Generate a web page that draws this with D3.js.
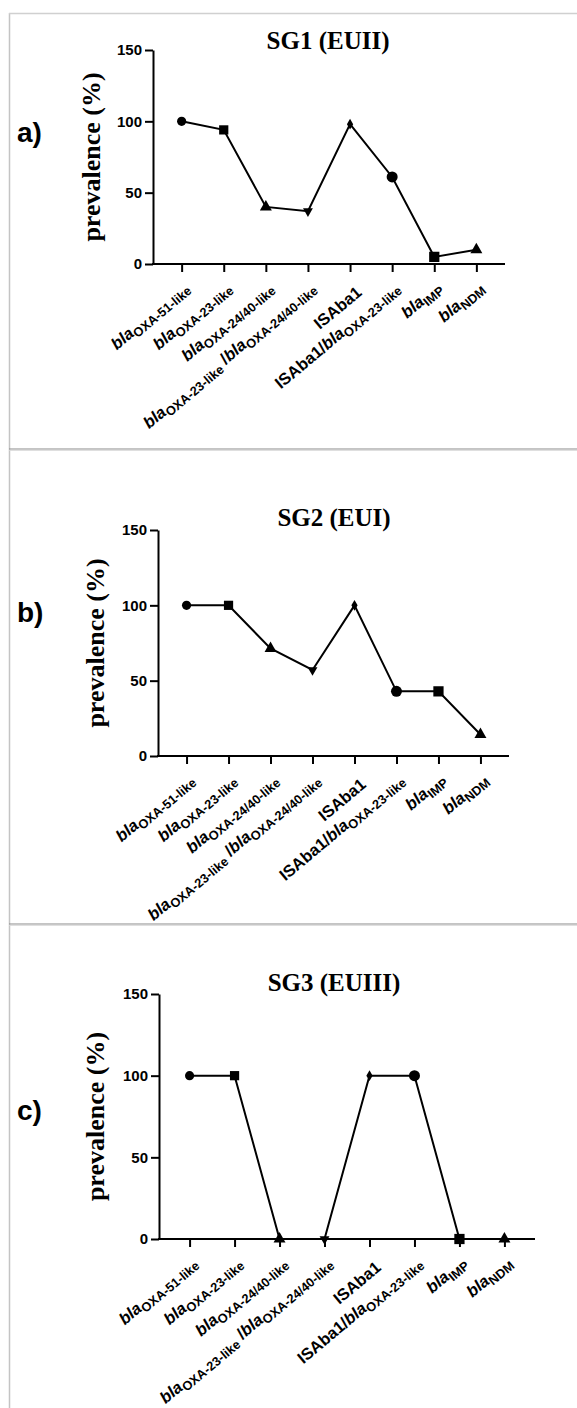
<!DOCTYPE html>
<html>
<head>
<meta charset="utf-8">
<script src="https://cdn.jsdelivr.net/npm/d3@7/dist/d3.min.js"></script>
<style>
  html, body { margin: 0; padding: 0; background: #fff; }
  svg { display: block; }
</style>
</head>
<body>
<svg id="chart" width="577" height="1408"></svg>
<script>
// ---------------- data ----------------
const categories = [
  "bla_{OXA-51-like}",
  "bla_{OXA-23-like}",
  "bla_{OXA-24/40-like}",
  "bla_{OXA-23-like} /bla_{OXA-24/40-like}",
  "ISAba1",
  "ISAba1/bla_{OXA-23-like}",
  "bla_{IMP}",
  "bla_{NDM}"
];
const sg1Values = [100, 94, 40, 37, 98, 61, 5, 10];
const sg2Values = [100, 100, 71.4, 57.1, 100, 42.9, 42.9, 14.3];
const sg3Values = [100, 100, 0, 0, 100, 100, 0, 0];
const yTicks = [0, 50, 100, 150];
const yDomain = [0, 150];
const titles = ["SG1 (EUII)", "SG2 (EUI)", "SG3 (EUIII)"];
const panelLetters = ["a)", "b)", "c)"];
const yAxisTitle = "prevalence (%)";

// ---------------- style / layout ----------------
const SANS = "'Liberation Sans', Arial, Helvetica, sans-serif";
const SERIF = "'Liberation Serif', 'Times New Roman', serif";
const markerShapes = ["circle", "square", "triangle", "triangleDown", "diamond", "circle", "square", "triangle"];
const markerSizes  = [66, 85, 62, 42, 34, 95, 105, 62];

const panels = [
  { values: sg1Values, axisX: 153, axisEnd: 505, y0: 264, yTop: 50,  titleX: 328, titleY: 49,  letterY: 142, labelX: 100 },
  { values: sg2Values, axisX: 158, axisEnd: 509, y0: 756, yTop: 530, titleX: 334, titleY: 526, letterY: 622, labelX: 104 },
  { values: sg3Values, axisX: 159, axisEnd: 535, y0: 1239, yTop: 994, titleX: 334, titleY: 991, letterY: 1120, labelX: 104 }
];

const svg = d3.select("#chart");

// frame lines
svg.append("line").attr("x1", 9.5).attr("x2", 9.5).attr("y1", 13).attr("y2", 1408)
  .attr("stroke", "#c4c4c4").attr("stroke-width", 1.5);
svg.append("line").attr("x1", 9).attr("x2", 577).attr("y1", 13.5).attr("y2", 13.5)
  .attr("stroke", "#d0d0d0").attr("stroke-width", 1.5);
[449, 924].forEach(y => {
  svg.append("line").attr("x1", 9).attr("x2", 577).attr("y1", y).attr("y2", y)
    .attr("stroke", "#8a8a8a").attr("stroke-width", 1.2);
  svg.append("line").attr("x1", 9).attr("x2", 577).attr("y1", y + 1.3).attr("y2", y + 1.3)
    .attr("stroke", "#d8d8d8").attr("stroke-width", 1);
});

function parseLabel(s) {
  const parts = [];
  const re = /_\{([^}]*)\}/g;
  let last = 0, m;
  while ((m = re.exec(s)) !== null) {
    if (m.index > last) parts.push({ t: s.slice(last, m.index), sub: false });
    parts.push({ t: m[1], sub: true });
    last = re.lastIndex;
  }
  if (last < s.length) parts.push({ t: s.slice(last), sub: false });
  return parts;
}

const symbolFor = {
  circle: d3.symbolCircle,
  square: d3.symbolSquare,
  triangle: d3.symbolTriangle,
  triangleDown: d3.symbolTriangle,
  diamond: d3.symbolDiamond
};

const ANGLE = 40;          // degrees, text reads up-right
const MAIN_FS = 16.5;
const SUB_FS = 12.8;
const SUB_DY = 4;
const rad = ANGLE * Math.PI / 180;

panels.forEach((p, pi) => {
  const g = svg.append("g");
  const x = d3.scalePoint().domain(d3.range(categories.length))
    .range([p.axisX, p.axisEnd]).padding(0.68);
  const y = d3.scaleLinear().domain(yDomain).range([p.y0, p.yTop]);

  // y axis
  const yAxis = d3.axisLeft(y).tickValues(yTicks).tickSize(8).tickSizeOuter(0).tickPadding(3)
    .tickFormat(d3.format("d"));
  const yg = g.append("g").attr("transform", `translate(${p.axisX},0)`).call(yAxis);
  yg.select(".domain").attr("stroke", "#000").attr("stroke-width", 2);
  yg.selectAll(".tick line").attr("stroke", "#000").attr("stroke-width", 2);
  yg.selectAll(".tick text").attr("fill", "#000").attr("font-family", SANS)
    .attr("font-weight", "bold").attr("font-size", 15);

  // x axis
  const xAxis = d3.axisBottom(x).tickSize(8).tickSizeOuter(0).tickFormat("");
  const xg = g.append("g").attr("transform", `translate(0,${p.y0})`).call(xAxis);
  xg.select(".domain").attr("stroke", "#000").attr("stroke-width", 2)
    .attr("d", `M${p.axisX - 1},0H${p.axisEnd}`);
  xg.selectAll(".tick line").attr("stroke", "#000").attr("stroke-width", 2);

  // x labels (rotated, rich text), top-right corner aligned just below each tick
  categories.forEach((c, i) => {
    const parts = parseLabel(c);
    const lastSub = parts[parts.length - 1].sub;
    const h = lastSub ? SUB_FS * 0.72 - SUB_DY : MAIN_FS * 0.72;
    const tx = x(i) + 5, ty = p.y0 + 21;
    const ax = tx + h * Math.sin(rad), ay = ty + h * Math.cos(rad);
    const t = g.append("text")
      .attr("transform", `translate(${ax},${ay}) rotate(${-ANGLE})`)
      .attr("text-anchor", "end")
      .attr("font-family", SANS).attr("font-weight", "bold").attr("fill", "#000");
    let shifted = false;
    parts.forEach(part => {
      const ts = t.append("tspan").text(part.t);
      if (part.sub) {
        ts.attr("font-size", SUB_FS).attr("dy", shifted ? 0 : SUB_DY);
        shifted = true;
      } else {
        ts.attr("font-size", MAIN_FS).attr("dy", shifted ? -SUB_DY : 0);
        if (part.t.trim().startsWith("bla") || part.t.endsWith("bla")) {
          // italicise gene prefix "bla"
          const txt = part.t;
          ts.text(null);
          const idx = txt.lastIndexOf("bla");
          if (idx > 0) ts.append("tspan").text(txt.slice(0, idx));
          ts.append("tspan").attr("font-style", "italic").text("bla");
        }
        shifted = false;
      }
    });
  });

  // line
  const line = d3.line().x((d, i) => x(i)).y(d => y(d));
  g.append("path").datum(p.values).attr("d", line)
    .attr("fill", "none").attr("stroke", "#000").attr("stroke-width", 2);

  // markers
  g.selectAll(".mk").data(p.values).enter().append("path")
    .attr("class", "mk")
    .attr("d", (d, i) => d3.symbol().type(symbolFor[markerShapes[i]]).size(markerSizes[i])())
    .attr("transform", (d, i) => `translate(${x(i)},${y(d)})` + (markerShapes[i] === "triangleDown" ? " rotate(180)" : ""))
    .attr("fill", "#000");

  // title
  g.append("text").attr("x", p.titleX).attr("y", p.titleY).attr("text-anchor", "middle")
    .attr("font-family", SERIF).attr("font-weight", "bold").attr("font-size", 25)
    .text(titles[pi]);

  // y axis title
  g.append("text")
    .attr("transform", `translate(${p.labelX},${(p.y0 + p.yTop) / 2}) rotate(-90)`)
    .attr("text-anchor", "middle")
    .attr("font-family", SERIF).attr("font-weight", "bold").attr("font-size", 26)
    .text(yAxisTitle);

  // panel letter
  g.append("text").attr("x", 17).attr("y", p.letterY)
    .attr("font-family", SANS).attr("font-weight", "bold").attr("font-size", 28)
    .text(panelLetters[pi]);
});
</script>
</body>
</html>
